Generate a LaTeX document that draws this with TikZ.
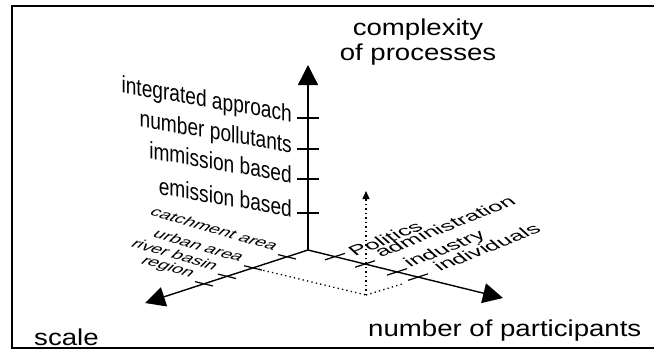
\documentclass[tikz,border=0pt]{standalone}
\usepackage{fontspec}
\setmainfont{Liberation Sans}
\usetikzlibrary{arrows.meta, calc}

\begin{document}
\begin{tikzpicture}[
    x=1pt, y=-1pt,
    axis/.style={line width=1.4pt, -{Triangle[length=20pt, width=20pt]}},
    tickmark/.style={line width=1.2pt},
    guide/.style={line width=1.3pt, dash pattern=on 1.3pt off 3.2pt},
    title/.style={font=\fontsize{23}{25}\selectfont, xscale=1.2, inner sep=0pt},
    wall/.style={font=\fontsize{22}{24}\selectfont, inner sep=0pt, anchor=base east,
                 cm={0.87,-0.15,0,1.08,(0,0)}},
    floorL/.style={font=\fontsize{18}{20}\selectfont, inner sep=0pt, anchor=base east,
                   cm={1,-0.29,0.6,0.6,(0,0)}},
    floorR/.style={font=\fontsize{23}{25}\selectfont, inner sep=0pt, anchor=base west,
                   cm={0.95,0.38,-0.55,0.5,(0,0)}}
]
    \useasboundingbox (0,0) rectangle (654,351);

    % Frame
    \draw[line width=2pt] (654,6) -- (12,6) -- (12,348) -- (654,348);

    % Axes
    \coordinate (O) at (308,250);
    \coordinate (up) at (308,65);
    \coordinate (sc) at (145,303);
    \coordinate (pa) at (503,298);
    \draw[axis] (O) -- (up);
    \draw[axis] (O) -- (sc);
    \draw[axis] (O) -- (pa);

    % Axis titles
    \node[title, anchor=base] (cplx) at (418,35) {complexity};
    \node[title, anchor=base] (proc) at (418,60) {of processes};
    \node[title, anchor=base west] (part) at (368,336) {number of participants};
    \node[title, anchor=base west] (scale) at (34,345) {scale};

    % Complexity levels
    \foreach \y/\name/\txt in {118/ia/integrated approach, 149/np/number pollutants,
                               179/ib/immission based, 213/eb/emission based} {
        \draw[tickmark] (297,\y) -- (319,\y);
        \node[wall] (\name) at (292,\y+4) {\txt};
    }

    % Scale levels
    \foreach \i/\x/\y/\txt in {1/287/256.8/catchment area, 2/253/267.9/urban area,
                               3/227/276.3/river basin, 4/204/283.8/region} {
        \coordinate (s\i) at (\x,\y);
        \draw[tickmark] ($(s\i)+(-9,-2.2)$) -- ($(s\i)+(9,2.2)$);
        \node[floorL] (sl\i) at ($(s\i)+(-14,-6)$) {\txt};
    }

    % Participants
    \foreach \i/\x/\y in {1/335/256.6, 2/365/264, 3/397/271.9, 4/418/277.1} {
        \coordinate (p\i) at (\x,\y);
        \draw[tickmark] ($(p\i)+(-10,3.25)$) -- ($(p\i)+(10,-3.25)$);
    }
    \node[floorR] (pol) at (355,257) {Politics};
    \node[floorR] (adm) at (381,258) {administration};
    \node[floorR] (ind) at (410,268) {industry};
    \node[floorR] (idv) at (440,272) {individuals};

    % Dotted guide
    \coordinate (F) at (366,295);
    \coordinate (Ftop) at (366,191);
    \coordinate (Fend) at (402,284);
    \draw[guide, shorten <=6pt] (s2) -- (F);
    \draw[guide] (F) -- (Fend);
    \draw[guide, -{Triangle[length=8pt, width=7pt]}] (F) -- (Ftop);

\end{tikzpicture}
\end{document}
